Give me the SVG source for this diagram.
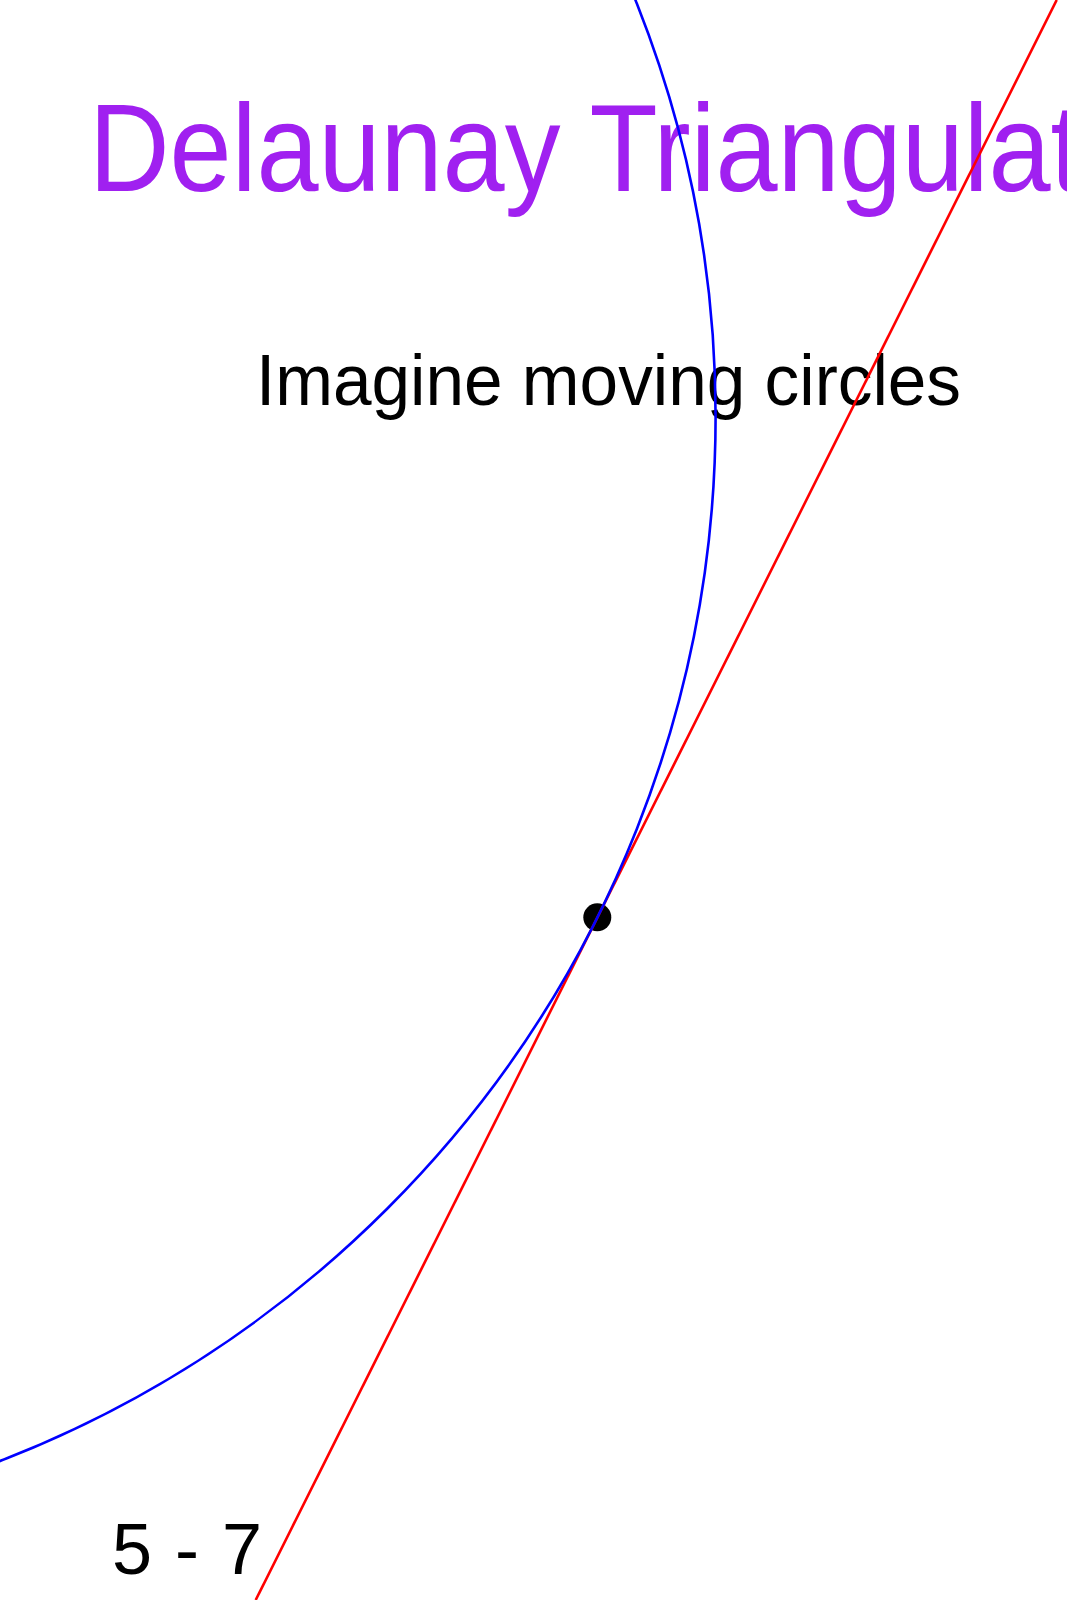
<svg xmlns="http://www.w3.org/2000/svg" width="1067" height="1600" viewBox="0 0 1067 1600">
  <style>
    .txt { font-family: "Liberation Sans", Arial, sans-serif; }
    .title { fill: #A020F0; font-size: 124px; }
    .body { fill: #000000; font-size: 72px; }
    .circle { fill: none; stroke: #0000FF; stroke-width: 2.6; }
    .tangent { fill: none; stroke: #FF0000; stroke-width: 2.6; }
  </style>
  <rect x="0" y="0" width="1067" height="1600" fill="#FFFFFF"/>
  <g id="title">
    <text class="txt title" transform="translate(89,191) scale(0.9,1)" x="0" y="0">Delaunay Triangulation</text>
  </g>
  <g id="subtitle">
    <text class="txt body" x="256" y="405" textLength="705" lengthAdjust="spacingAndGlyphs">Imagine moving circles</text>
  </g>
  <g id="page-number">
    <text class="txt body" x="112" y="1574" textLength="150" lengthAdjust="spacing">5 - 7</text>
  </g>
  <g id="point">
    <circle cx="597.3" cy="917.3" r="14" fill="#000000"/>
  </g>
  <g id="connectors">
    <line class="tangent" x1="1056.7" y1="0" x2="255.7" y2="1600"/>
    <circle class="circle" cx="-404.9" cy="416.2" r="1120.5"/>
  </g>
</svg>
